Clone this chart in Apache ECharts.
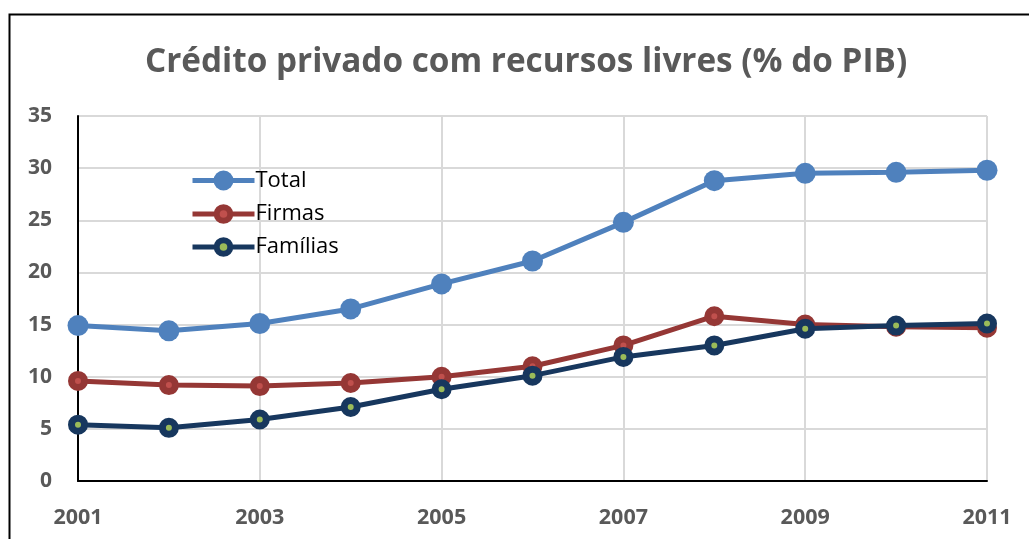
<!DOCTYPE html>
<html>
<head>
<meta charset="utf-8">
<script src="https://cdn.jsdelivr.net/npm/echarts@6/dist/echarts.min.js"></script>
<style>
html,body{margin:0;padding:0;background:#fff;}
#chart{width:1029px;height:539px;}
</style>
</head>
<body>
<div id="chart"></div>
<script>
const years = ['2001','2002','2003','2004','2005','2006','2007','2008','2009','2010','2011'];
const total = [14.9, 14.4, 15.1, 16.5, 18.9, 21.1, 24.8, 28.8, 29.5, 29.6, 29.8];
const firmas = [9.6, 9.2, 9.1, 9.4, 10.0, 11.0, 13.0, 15.8, 15.0, 14.8, 14.7];
const familias = [5.4, 5.1, 5.9, 7.1, 8.8, 10.1, 11.9, 13.0, 14.6, 14.9, 15.1];
const titleText = 'Crédito privado com recursos livres (% do PIB)';

const chart = echarts.init(document.getElementById('chart'), null, {renderer:'canvas'});
const font = '"Open Sans", "Liberation Sans", sans-serif';
const legendText = {fontFamily: font, fontSize: 22, color: '#000', lineHeight: 20, padding: [0,0,0,-4]};
chart.setOption({
  animation: false,
  backgroundColor: '#fff',
  graphic: [{
    type: 'rect', left: 7, top: 12,
    shape: {x: 0, y: 0, width: 1040, height: 560},
    style: {fill: 'none', stroke: '#000', lineWidth: 2}
  }],
  title: {
    text: titleText, left: 145, top: 46, padding: 0,
    textStyle: {fontFamily: font, fontWeight: 'bold', fontSize: 33.3, color: '#595959'}
  },
  legend: [{
    orient: 'vertical', left: 190, top: 169.5, padding: 0, itemWidth: 62, itemHeight: 25,
    textStyle: legendText, lineStyle: {width: 5},
    data: ['Total']
  }, {
    orient: 'vertical', left: 190, top: 203, padding: 0, itemWidth: 62, itemHeight: 17, itemGap: 11,
    textStyle: legendText, lineStyle: {width: 5}, itemStyle: {borderWidth: 6},
    data: ['Firmas','Famílias']
  }],
  grid: {left: 78, right: 42, top: 116, bottom: 58, containLabel: false},
  xAxis: {
    type: 'category', data: years, boundaryGap: false,
    axisLine: {lineStyle: {color: '#000', width: 2}},
    axisTick: {show: false},
    axisLabel: {interval: 1, margin: 26, fontFamily: font, fontWeight: 'bold', fontSize: 21.5, color: '#595959'},
    splitLine: {show: true, interval: 1, lineStyle: {color: '#D9D9D9', width: 2}}
  },
  yAxis: {
    type: 'value', min: 0, max: 35, interval: 5,
    axisLine: {show: true, lineStyle: {color: '#000', width: 2}},
    axisTick: {show: false},
    axisLabel: {margin: 26, fontFamily: font, fontWeight: 'bold', fontSize: 21, color: '#595959'},
    splitLine: {show: true, lineStyle: {color: '#D9D9D9', width: 2}}
  },
  series: [
    {name: 'Total', type: 'line', data: total, symbol: 'circle', symbolSize: 21,
     lineStyle: {color: '#4F81BD', width: 5}, itemStyle: {color: '#4F81BD'}, z: 3},
    {name: 'Firmas', type: 'line', data: firmas, symbol: 'circle', symbolSize: 13,
     lineStyle: {color: '#953735', width: 5},
     itemStyle: {color: '#C0504D', borderColor: '#953735', borderWidth: 7}, z: 4},
    {name: 'Famílias', type: 'line', data: familias, symbol: 'circle', symbolSize: 13,
     lineStyle: {color: '#17375E', width: 5},
     itemStyle: {color: '#9BBB59', borderColor: '#17375E', borderWidth: 7}, z: 5}
  ]
});
</script>
</body>
</html>
